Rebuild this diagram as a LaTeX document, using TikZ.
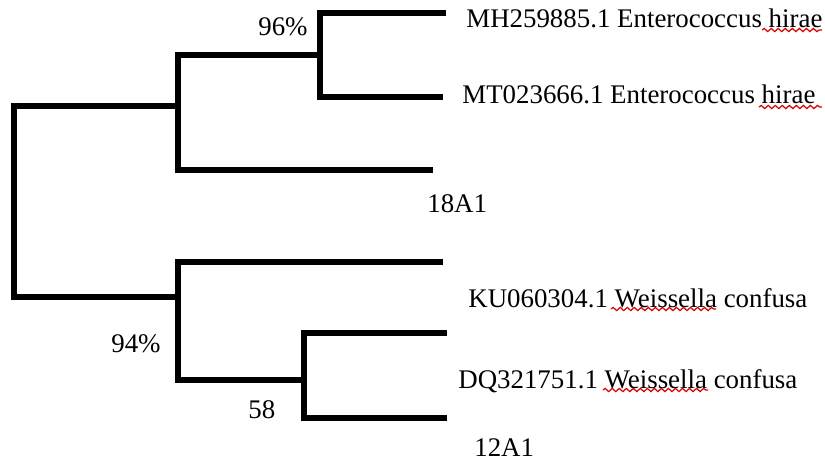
\documentclass[tikz,border=0pt]{standalone}
\usepackage{fontspec}
\setmainfont{Liberation Serif}
\usetikzlibrary{decorations.pathmorphing}
\tikzset{
	branch/.style={line width=3pt, line cap=rect},
	lbl/.style={font=\fontsize{15.3}{18}\selectfont, inner sep=0pt},
	spellmark/.style={red!85!black, line width=0.7pt, decorate,
		decoration={snake, amplitude=0.9pt, segment length=4pt}}
}

\begin{document}
\begin{tikzpicture}[x=0.02cm, y=-0.02cm]
		\useasboundingbox (0,0) rectangle (825,461);
		
		% inner nodes of the tree
		\coordinate (root) at (14,200);
		\coordinate (nA) at (178,106);
		\coordinate (nB) at (320,55);
		\coordinate (nC) at (178,297);
		\coordinate (nD) at (304,380);
		
		% tips
		\coordinate (tMH) at (443,13);
		\coordinate (tMT) at (440,97);
		\coordinate (t18) at (430,170);
		\coordinate (tKU) at (440,262);
		\coordinate (tDQ) at (444,333);
		\coordinate (t12) at (444,418);
		
		\draw[branch] (nA) -| (root) |- (nC);
		\draw[branch] (nB) -| (nA) |- (t18);
		\draw[branch] (tMH) -| (nB) |- (tMT);
		\draw[branch] (tKU) -| (nC) |- (nD);
		\draw[branch] (tDQ) -| (nD) |- (t12);
		
		% labels
		\node[lbl, anchor=base west] (lMH) at (466,27) {MH259885.1 Enterococcus hirae};
		\node[lbl, anchor=base west] (lMT) at (462,103) {MT023666.1 Enterococcus hirae};
		\node[lbl, anchor=base west] (l18) at (427,212) {18A1};
		\node[lbl, anchor=base west] (lKU) at (468,307) {KU060304.1 Weissella confusa};
		\node[lbl, anchor=base west] (lDQ) at (458,388) {DQ321751.1 Weissella confusa};
		\node[lbl, anchor=base west] (l12) at (474,456) {12A1};
		
		% support values
		\node[lbl, anchor=base west] (b96) at (258,35) {96\%};
		\node[lbl, anchor=base west] (b94) at (111,352) {94\%};
		\node[lbl, anchor=base west] (b58) at (248,418) {58};
		
		% spell-check marks
		\draw[spellmark] (762,30) -- (822,30);
		\draw[spellmark] (759,107) -- (822,107);
		\draw[spellmark] (611,309) -- (716,309);
		\draw[spellmark] (603,390) -- (708,390);
	\end{tikzpicture}
\end{document}
